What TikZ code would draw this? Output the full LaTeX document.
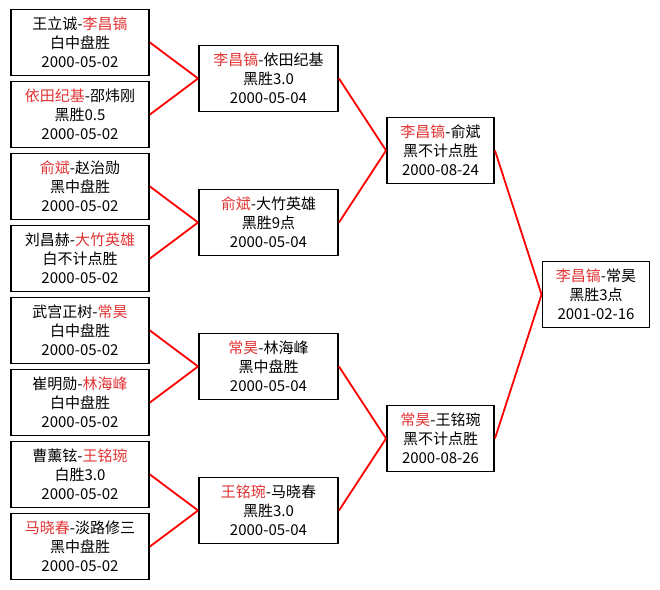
\documentclass[tikz,border=0pt]{standalone}
\usepackage{fontspec}
\setmainfont{Noto Sans CJK SC}
\usepackage{xcolor}
\usetikzlibrary{calc,positioning}
\definecolor{winred}{RGB}{226,52,52}
\newcommand{\win}[1]{\textcolor{winred}{#1}}
\tikzset{
  game/.style={
    draw,
    line width=1.9pt,
    minimum height=66pt,
    inner sep=0pt,
    align=center,
    font=\fontsize{15}{19}\selectfont
  },
  round1/.style={game, minimum width=138pt},
  round2/.style={game, minimum width=139pt},
  round3/.style={game, minimum width=107pt},
  link/.style={draw=red, line width=1.8pt}
}

\begin{document}
\begin{tikzpicture}[x=1pt, y=-1pt, node distance=4.1pt]
  \useasboundingbox[fill=white] (0,0) rectangle (660,589);

  % first round
  \node[round1] (m1) at (80,42.5) {王立诚-\win{李昌镐}\\白中盘胜\\2000-05-02};
  \node[round1, below=of m1] (m2) {\win{依田纪基}-邵炜刚\\黑胜0.5\\2000-05-02};
  \node[round1, below=of m2] (m3) {\win{俞斌}-赵治勋\\黑中盘胜\\2000-05-02};
  \node[round1, below=of m3] (m4) {刘昌赫-\win{大竹英雄}\\白不计点胜\\2000-05-02};
  \node[round1, below=of m4] (m5) {武宫正树-\win{常昊}\\白中盘胜\\2000-05-02};
  \node[round1, below=of m5] (m6) {崔明勋-\win{林海峰}\\白中盘胜\\2000-05-02};
  \node[round1, below=of m6] (m7) {曹薰铉-\win{王铭琬}\\白胜3.0\\2000-05-02};
  \node[round1, below=of m7] (m8) {\win{马晓春}-淡路修三\\黑中盘胜\\2000-05-02};

  % quarter finals
  \node[round2] (q1) at ($(m1)!0.5!(m2) + (188.5,0)$) {\win{李昌镐}-依田纪基\\黑胜3.0\\2000-05-04};
  \node[round2] (q2) at ($(m3)!0.5!(m4) + (188.5,0)$) {\win{俞斌}-大竹英雄\\黑胜9点\\2000-05-04};
  \node[round2] (q3) at ($(m5)!0.5!(m6) + (188.5,0)$) {\win{常昊}-林海峰\\黑中盘胜\\2000-05-04};
  \node[round2] (q4) at ($(m7)!0.5!(m8) + (188.5,0)$) {\win{王铭琬}-马晓春\\黑胜3.0\\2000-05-04};

  % semi finals and final
  \node[round3] (s1) at ($(q1)!0.5!(q2) + (172,0)$) {\win{李昌镐}-俞斌\\黑不计点胜\\2000-08-24};
  \node[round3] (s2) at ($(q3)!0.5!(q4) + (172,0)$) {\win{常昊}-王铭琬\\黑不计点胜\\2000-08-26};
  \node[round3] (f) at ($(s1)!0.5!(s2) + (155.5,0)$) {\win{李昌镐}-常昊\\黑胜3点\\2001-02-16};

  \foreach \a/\b in {m1/q1, m2/q1, m3/q2, m4/q2, m5/q3, m6/q3, m7/q4, m8/q4,
                     q1/s1, q2/s1, q3/s2, q4/s2, s1/f, s2/f}
    \draw[link] (\a.east) -- (\b.west);
\end{tikzpicture}
\end{document}
